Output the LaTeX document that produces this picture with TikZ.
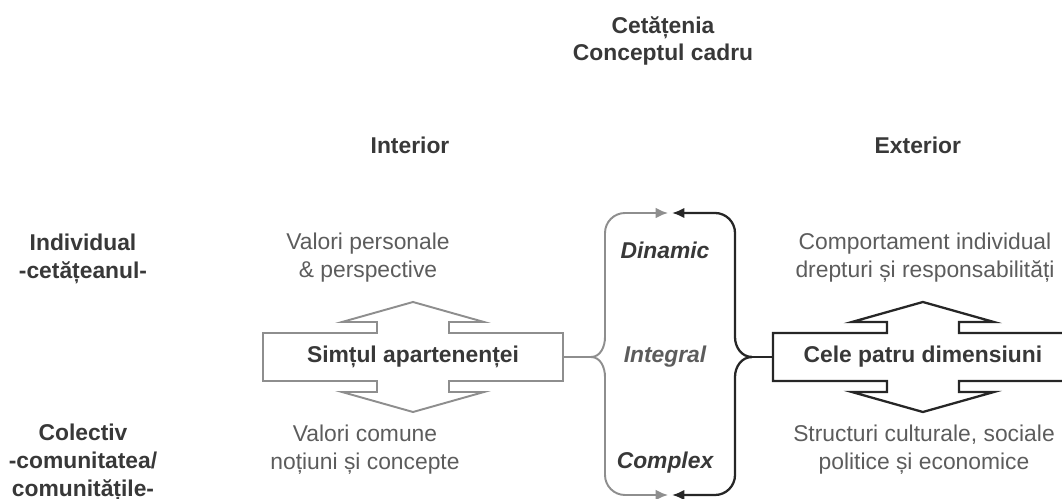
\documentclass[tikz,border=0pt]{standalone}
\usepackage{fontspec}
\setmainfont{Liberation Sans}
\usetikzlibrary{arrows.meta, arrows}
\definecolor{lightline}{HTML}{8E8E8E}
\definecolor{darktext}{HTML}{383838}
\definecolor{softtext}{HTML}{5C5C5C}

\begin{document}
\begin{tikzpicture}[x=0.02cm,y=-0.02cm,auto,>={Latex[length=7pt,width=6pt]},line width=1.1pt]
	\tikzstyle{heading}=[align=center, text=darktext, font=\fontsize{13pt}{15.9pt}\selectfont\bfseries]
	\tikzstyle{note}=[align=center, text=softtext, font=\fontsize{13pt}{15.9pt}\selectfont]
	\tikzstyle{quality}=[text=darktext, font=\fontsize{13pt}{15.9pt}\selectfont\bfseries\itshape]
	\tikzstyle{core}=[minimum width=6cm, minimum height=0.96cm, inner sep=0pt, text=darktext, font=\fontsize{13pt}{15.9pt}\selectfont\bfseries]
	\tikzstyle{greyline}=[draw=lightline, line width=1.1pt]
	\tikzstyle{blackline}=[draw=black!85, line width=1.3pt]

	\useasboundingbox (0,0) rectangle (1062,499);
	\clip (0,0) rectangle (1062,499);

    \node [heading] (title) at (663,41) {Cetățenia\\Conceptul cadru};
    \node [heading] (interior) at (410,145) {Interior};
    \node [heading] (exterior) [right of=interior, node distance=10.16cm] {Exterior};
    \node [heading] (individual) at (83,259) {Individual\\-cetățeanul-};
    \node [heading] (colectiv) at (83,463) {Colectiv\\-comunitatea/\\comunitățile-};

    \node [core] (simt) at (413,357) {Simțul apartenenței};
    \node [core] (dim) [right of=simt, node distance=10.2cm] {Cele patru dimensiuni};

    \node [note] (valpers) at (368,258) {Valori personale\\\& perspective};
    \node [note] (valcom) at (365,450) {Valori comune\\noțiuni și concepte};
    \node [note] (comport) at (925,258) {Comportament individual\\drepturi și responsabilități};
    \node [note] (struct) at (924,450) {Structuri culturale, sociale\\politice și economice};

    \node [quality, text=softtext] (integral) at (665,357) {Integral};
    \node [quality] (dinamic) [above of=integral, node distance=2.14cm] {Dinamic};
    \node [quality] (complex) [below of=integral, node distance=2.12cm] {Complex};

    \foreach \n/\s in {simt/greyline, dim/blackline}
        \draw [\s, shift={(\n.center)}] (-150,-24) -- (-36,-24) -- (-36,-35) -- (-71,-35) -- (0,-55) -- (71,-35) -- (36,-35) -- (36,-24) -- (150,-24)
            -- (150,24) -- (36,24) -- (36,35) -- (71,35) -- (0,55) -- (-71,35) -- (-36,35) -- (-36,24) -- (-150,24) -- cycle;

    \coordinate (gtip) at (591,357);
    \coordinate (btip) at (752,357);
    \draw [greyline] (simt.east) -- (gtip);
    \draw [blackline] (btip) -- (dim.west);

    \draw [greyline, ->, lightline] (gtip) to[out=0,in=-90] (605,337) [rounded corners=0.4cm] -- (605,213) -- (668,213);
    \draw [greyline, ->, lightline] (gtip) to[out=0,in=90] (605,377) [rounded corners=0.4cm] -- (605,495) -- (668,495);
    \draw [blackline, ->, black!85] (btip) to[out=180,in=-90] (735,337) [rounded corners=0.4cm] -- (735,213) -- (672,213);
    \draw [blackline, ->, black!85] (btip) to[out=180,in=90] (735,377) [rounded corners=0.4cm] -- (735,495) -- (672,495);
\end{tikzpicture}
\end{document}
